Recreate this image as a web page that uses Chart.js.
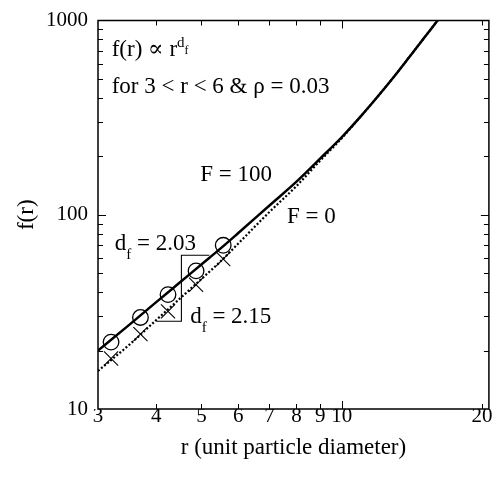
<!DOCTYPE html>
<html>
<head>
<meta charset="utf-8">
<script src="https://cdn.jsdelivr.net/npm/chart.js@4.4.1/dist/chart.umd.min.js"></script>
<style>
  html, body { margin: 0; padding: 0; background: #fff; }
  canvas { display: block; }
</style>
</head>
<body>
<canvas id="fr-chart" width="500" height="480"></canvas>
<script>
// f(r) vs r on log-log axes: F = 100 (solid) and F = 0 (dotted)
const rSolid = [3, 3.5, 4, 4.5, 5, 5.5, 6, 7, 8, 9, 10, 11, 12, 13, 14, 15, 16, 16.1];
const fSolid = [20, 27.1, 35.5, 44.9, 55.5, 67.1, 80.5, 111.6, 148, 195, 250.6, 322, 411, 520, 653, 809, 989, 1010];

const rDotted = [3, 3.5, 4, 4.5, 5, 5.5, 6, 7, 8, 9, 10, 11, 12, 13, 14, 15, 16, 16.1];
const fDotted = [15.7, 21.4, 28.7, 37.1, 46.7, 57.6, 71.1, 103.4, 140.6, 190.4, 247.5, 322, 411, 520, 653, 809, 989, 1010];

// measured points
const rMarks = [3.2, 3.7, 4.24, 4.87, 5.57];
const fCircles = [22.1, 29.6, 38.8, 51.4, 69.6];
const fCrosses = [18.2, 24.3, 31.8, 43.6, 59.2];

// slope guide (d_f = 2.03 above, d_f = 2.15 below)
const rGuide = [5.2, 4.53, 4.53, 4.0];
const fGuide = [61.9, 61.9, 28.3, 28.3];

const xTickLabels = [3, 4, 5, 6, 7, 8, 9, 10, 20];
const yTickLabels = [10, 100, 1000];
const xTickMarks = [4, 5, 6, 7, 8, 9, 10, 20];
const xMajorMarks = [10];
const yTickMarks = [20, 30, 40, 50, 60, 70, 80, 90, 100, 200, 300, 400, 500, 600, 700, 800, 900];
const yMajorMarks = [100];

const SERIF = '"Liberation Serif", "Times New Roman", "DejaVu Serif", serif';

const toPoints = (xs, ys) => xs.map((x, i) => ({ x: x, y: ys[i] }));

// text notes, placed in data space (alphabetic baseline)
const notes = [
    { r: 3.21, f: 656, parts: [['f(r) \u221D r', 23, 0], ['d', 15, -9], ['f', 12, -2]] },
    { r: 3.21, f: 425, parts: [['for 3 < r < 6 & \u03C1 = 0.03', 23, 0]] },
    { r: 4.97, f: 150, parts: [['F = 100', 23, 0]] },
    { r: 7.63, f: 90.5, parts: [['F = 0', 23, 0]] },
    { r: 3.26, f: 66.0, parts: [['d', 23, 0], ['f', 15, 9], [' = 2.03', 23, 0]] },
    { r: 4.73, f: 27.7, parts: [['d', 23, 0], ['f', 15, 9], [' = 2.15', 23, 0]] }
];

const frameAndTicks = {
    id: 'frameAndTicks',
    afterDraw(chart) {
        const { ctx, chartArea: a, scales: { x, y } } = chart;
        ctx.save();
        ctx.strokeStyle = '#000';
        ctx.lineWidth = 1.5;
        ctx.strokeRect(a.left, a.top, a.right - a.left, a.bottom - a.top);

        ctx.lineWidth = 1;
        ctx.beginPath();
        xTickMarks.forEach(v => {
            const px = Math.round(x.getPixelForValue(v)) + 0.5;
            const len = xMajorMarks.includes(v) ? 8 : 5;
            ctx.moveTo(px, a.bottom);
            ctx.lineTo(px, a.bottom - len);
            ctx.moveTo(px, a.top);
            ctx.lineTo(px, a.top + len);
        });
        yTickMarks.forEach(v => {
            const py = Math.round(y.getPixelForValue(v)) + 0.5;
            const len = yMajorMarks.includes(v) ? 8 : 5;
            ctx.moveTo(a.left, py);
            ctx.lineTo(a.left + len, py);
            ctx.moveTo(a.right, py);
            ctx.lineTo(a.right - len, py);
        });
        ctx.stroke();
        ctx.restore();
    }
};

const textNotes = {
    id: 'textNotes',
    afterDatasetsDraw(chart) {
        const { ctx, scales: { x, y } } = chart;
        ctx.save();
        ctx.fillStyle = '#000';
        ctx.textBaseline = 'alphabetic';
        ctx.textAlign = 'left';
        notes.forEach(note => {
            let px = x.getPixelForValue(note.r);
            const py = y.getPixelForValue(note.f);
            note.parts.forEach(([text, size, dy]) => {
                ctx.font = size + 'px ' + SERIF;
                ctx.fillText(text, px, py + dy);
                px += ctx.measureText(text).width;
            });
        });
        ctx.restore();
    }
};

new Chart(document.getElementById('fr-chart'), {
    type: 'scatter',
    data: {
        datasets: [
            {
                label: 'F = 100',
                data: toPoints(rSolid, fSolid),
                showLine: true,
                borderColor: '#000',
                borderWidth: 2.5,
                pointRadius: 0,
                cubicInterpolationMode: 'monotone'
            },
            {
                label: 'F = 0',
                data: toPoints(rDotted, fDotted),
                showLine: true,
                borderColor: '#000',
                borderWidth: 2.2,
                borderDash: [2, 2],
                pointRadius: 0,
                cubicInterpolationMode: 'monotone'
            },
            {
                label: 'F = 100 points',
                data: toPoints(rMarks, fCircles),
                showLine: false,
                pointStyle: 'circle',
                pointRadius: 7.8,
                pointBorderWidth: 1.3,
                pointBorderColor: '#000',
                pointBackgroundColor: 'rgba(0,0,0,0)'
            },
            {
                label: 'F = 0 points',
                data: toPoints(rMarks, fCrosses),
                showLine: false,
                pointStyle: 'crossRot',
                pointRadius: 10,
                pointBorderWidth: 1.1,
                pointBorderColor: '#000'
            },
            {
                label: 'slope guide',
                data: toPoints(rGuide, fGuide),
                showLine: true,
                borderColor: '#000',
                borderWidth: 1.1,
                pointRadius: 0,
                tension: 0
            }
        ]
    },
    options: {
        responsive: false,
        animation: false,
        devicePixelRatio: 1,
        layout: { padding: { top: 16, right: 11, left: 0, bottom: 0 } },
        plugins: {
            legend: { display: false },
            tooltip: { enabled: false }
        },
        scales: {
            x: {
                type: 'logarithmic',
                min: 3,
                max: 20.7,
                grid: { display: false, drawTicks: false },
                border: { display: false },
                afterBuildTicks: (scale) => {
                    scale.ticks = xTickLabels.map(v => ({ value: v }));
                },
                afterFit: (scale) => { scale.height = 71; },
                ticks: {
                    autoSkip: false,
                    maxRotation: 0,
                    padding: -3,
                    color: '#000',
                    font: { family: SERIF, size: 21, lineHeight: 1 },
                    callback: (v) => String(v)
                },
                title: {
                    display: true,
                    text: 'r (unit particle diameter)',
                    color: '#000',
                    font: { family: SERIF, size: 23, lineHeight: 1.2 },
                    padding: { top: 0, bottom: 18 }
                }
            },
            y: {
                type: 'logarithmic',
                min: 10,
                max: 1000,
                grid: { display: false, drawTicks: false },
                border: { display: false },
                afterBuildTicks: (scale) => {
                    scale.ticks = yTickLabels.map(v => ({ value: v }));
                },
                afterFit: (scale) => { scale.width = 98; },
                ticks: {
                    autoSkip: false,
                    padding: 10,
                    color: '#000',
                    font: { family: SERIF, size: 21, lineHeight: 1 },
                    callback: (v) => String(v)
                },
                title: {
                    display: true,
                    text: 'f(r)',
                    color: '#000',
                    font: { family: SERIF, size: 23, lineHeight: 1.2 },
                    padding: { top: 13, bottom: 0 }
                }
            }
        }
    },
    plugins: [frameAndTicks, textNotes]
});
</script>
</body>
</html>
